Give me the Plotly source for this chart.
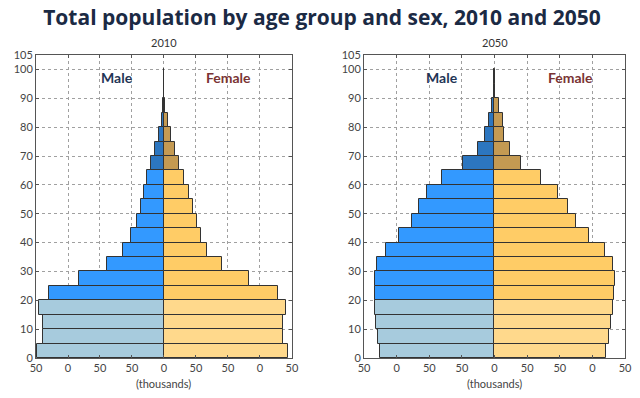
import plotly.graph_objects as go

age_start = [0, 5, 10, 15, 20, 25, 30, 35, 40, 45, 50, 55, 60, 65, 70, 75, 80, 85, 90, 95]

male_2010 = [199, 189.5, 189.5, 196, 179, 133, 88.5, 63.5, 52, 41.7, 36.5, 31, 26, 20, 13.5, 8.5, 3.8, 1.5, 0.7, 0.2]
female_2010 = [194, 185.5, 185.5, 190, 177.5, 133, 90, 66.5, 57.5, 52, 46, 38.5, 31.5, 24, 16.5, 11, 6, 1.5, 0.7, 0.2]

male_2050 = [175, 178, 181, 183, 183, 183, 180, 167, 146.5, 127, 115, 103.6, 80.6, 49, 25.5, 13.8, 8, 4, 1.5, 0.4]
female_2050 = [170.7, 175, 178.5, 181.5, 183.4, 184.5, 181.5, 168.6, 145.6, 125, 112, 97, 72, 41, 23, 15.3, 12.8, 7.2, 1.5, 0.4]

x_tickvals = [-200, -150, -100, -50, 0, 50, 100, 150, 200]
x_ticktext = ["50", "0", "50", "50", "0", "50", "50", "0", "50"]
y_tickvals = [0, 10, 20, 30, 40, 50, 60, 70, 80, 90, 100, 105]

MALE_COLORS = {"young": "#a7cbdd", "adult": "#3399ff", "old": "#2c76c0"}
FEMALE_COLORS = {"young": "#ffd98c", "adult": "#ffcc66", "old": "#c49a52"}


def group(a):
    if a < 20:
        return "young"
    if a < 65:
        return "adult"
    return "old"


centers = [a + 2.5 for a in age_start]
mcols = [MALE_COLORS[group(a)] for a in age_start]
fcols = [FEMALE_COLORS[group(a)] for a in age_start]

fig = go.Figure()
for i, (m, f) in enumerate([(male_2010, female_2010), (male_2050, female_2050)]):
    xa = "x" if i == 0 else "x2"
    ya = "y" if i == 0 else "y2"
    fig.add_trace(go.Bar(y=centers, x=[-v for v in m], orientation="h", width=5,
                         marker=dict(color=mcols, line=dict(color="#333333", width=1)),
                         xaxis=xa, yaxis=ya, showlegend=False, hoverinfo="skip"))
    fig.add_trace(go.Bar(y=centers, x=f, orientation="h", width=5,
                         marker=dict(color=fcols, line=dict(color="#333333", width=1)),
                         xaxis=xa, yaxis=ya, showlegend=False, hoverinfo="skip"))

axis_common = dict(showgrid=True, gridcolor="#a0a0a0", griddash="dot", gridwidth=1,
                   showline=True, linecolor="#555555", linewidth=1, mirror="ticks",
                   ticks="inside", ticklen=3, tickcolor="#555555", zeroline=False,
                   automargin=False,
                   tickfont=dict(family="Lato, sans-serif", size=11, color="#444444"))

fig.update_layout(
    width=640, height=398,
    margin=dict(l=28, r=23, t=47, b=48),
    paper_bgcolor="white", plot_bgcolor="white",
    barmode="overlay", bargap=0,
    title=dict(text="<b>Total population by age group and sex, 2010 and 2050</b>",
               x=0.4906, xanchor="center", y=0.975, yanchor="middle",
               font=dict(family="Open Sans, sans-serif", size=21, color="#1b2a44")),
    xaxis=dict(domain=[0, 0.4346], range=[-200, 200], tickvals=x_tickvals, ticktext=x_ticktext,
               anchor="y", **axis_common),
    xaxis2=dict(domain=[0.5569, 1], range=[-200, 200], tickvals=x_tickvals, ticktext=x_ticktext,
                anchor="y2", **axis_common),
    yaxis=dict(domain=[0, 1], range=[0, 105], tickvals=y_tickvals, anchor="x", **axis_common),
    yaxis2=dict(domain=[0, 1], range=[0, 105], tickvals=y_tickvals, anchor="x2", **axis_common),
)

ann_font = dict(family="Lato, sans-serif", size=14)
for xr, yr, mx, fx, ttl in [("x", "y", -73, 101, "2010"), ("x2", "y2", -80, 116, "2050")]:
    fig.add_annotation(x=mx, y=97.3, xref=xr, yref=yr, text="<b>Male</b>", showarrow=False,
                       font=dict(color="#1f3556", **ann_font))
    fig.add_annotation(x=fx, y=97.3, xref=xr, yref=yr, text="<b>Female</b>", showarrow=False,
                       font=dict(color="#7a3434", **ann_font))
    fig.add_annotation(x=0, y=105, xref=xr, yref=yr, yshift=13, text=ttl, showarrow=False,
                       font=dict(family="Lato, sans-serif", size=11, color="#333333"))
    fig.add_annotation(x=0, y=0, xref=xr, yref=yr, yshift=-25, text="(thousands)", showarrow=False,
                       font=dict(family="Lato, sans-serif", size=11, color="#444444"))

fig.write_html("out.html")
